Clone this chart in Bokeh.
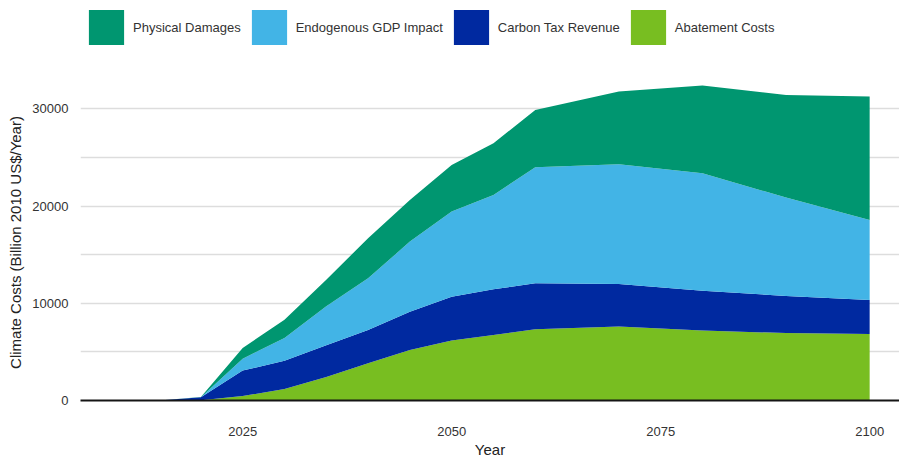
from bokeh.plotting import figure
from bokeh.models import Range1d, FixedTicker, Legend, LegendItem, ColumnDataSource
from bokeh.layouts import column
from bokeh.embed import file_html
from bokeh.resources import INLINE

years = [2010, 2015, 2020, 2025, 2030, 2035, 2040, 2045, 2050, 2055, 2060, 2070, 2080, 2090, 2100]
abatement = [0, 0, 30, 450, 1190, 2420, 3830, 5200, 6180, 6740, 7320, 7600, 7190, 6940, 6840]
carbon_tax = [0, 0, 300, 2630, 2890, 3270, 3420, 3940, 4500, 4700, 4740, 4390, 4110, 3810, 3500]
endogenous = [0, 0, 10, 1220, 2350, 4010, 5320, 7200, 8750, 9700, 11930, 12310, 12070, 10120, 8230]
physical = [0, 0, 10, 1100, 1870, 2720, 4120, 4290, 4800, 5320, 5900, 7470, 9020, 10560, 12690]

series_names = ["Abatement Costs", "Carbon Tax Revenue", "Endogenous GDP Impact", "Physical Damages"]
series_colors = ["#78be21", "#0029a0", "#42b4e6", "#009670"]
legend_order = ["Physical Damages", "Endogenous GDP Impact", "Carbon Tax Revenue", "Abatement Costs"]

x_ticks = [2025, 2050, 2075, 2100]
y_ticks = [0, 10000, 20000, 30000]
y_grid = [5000, 10000, 15000, 20000, 25000, 30000]

FONT = "Liberation Sans"

source = ColumnDataSource(dict(
    year=years,
    a=abatement, c=carbon_tax, e=endogenous, p=physical,
))

# ---------- legend strip ----------
leg = figure(width=899, height=50, output_backend="svg", toolbar_location=None,
             x_range=Range1d(0, 1), y_range=Range1d(-2, -1),
             x_axis_type=None, y_axis_type=None,
             min_border_left=80, min_border_right=0, min_border_top=0, min_border_bottom=0)
leg.outline_line_color = None
leg.xgrid.visible = False
leg.ygrid.visible = False
leg_renderers = leg.varea_stack(["a", "c", "e", "p"], x="year", source=source, color=series_colors)
leg_by_name = dict(zip(series_names, leg_renderers))
items = [LegendItem(label=n, renderers=[leg_by_name[n]]) for n in legend_order]
legend = Legend(items=items, orientation="horizontal", location=(4, 1),
                glyph_width=44, glyph_height=44, label_standoff=5, spacing=6,
                padding=0, margin=0, border_line_color=None, background_fill_alpha=0,
                label_text_font=FONT, label_text_font_size="13px", label_text_color="#333333",
                label_height=44)
leg.add_layout(legend, "center")

# ---------- main chart ----------
p = figure(width=899, height=412, output_backend="svg", toolbar_location=None,
           x_range=Range1d(2005.6, 2103.57), y_range=Range1d(0, 32500),
           min_border_left=80, min_border_right=0, min_border_top=34, min_border_bottom=62)
p.outline_line_color = None
p.background_fill_color = "white"
p.border_fill_color = "white"

p.varea_stack(["a", "c", "e", "p"], x="year", source=source, color=series_colors)

p.xaxis.ticker = FixedTicker(ticks=x_ticks)
p.yaxis.ticker = FixedTicker(ticks=y_ticks)
p.xgrid.visible = False
p.ygrid.ticker = FixedTicker(ticks=y_grid)
p.ygrid.grid_line_color = "#dddddd"
p.ygrid.grid_line_width = 1.6

p.xaxis.axis_line_color = "#151515"
p.xaxis.axis_line_width = 2
p.xaxis.major_tick_line_color = None
p.xaxis.minor_tick_line_color = None
p.xaxis.major_tick_out = 0
p.xaxis.major_tick_in = 0
p.xaxis.major_label_standoff = 26
p.xaxis.axis_label = "Year"
p.xaxis.axis_label_standoff = 2
p.xaxis.axis_label_text_font_size = "15px"
p.xaxis.axis_label_text_font_style = "normal"
p.xaxis.axis_label_text_color = "#222222"
p.xaxis.axis_label_text_font = FONT

p.yaxis.axis_line_color = None
p.yaxis.major_tick_line_color = None
p.yaxis.minor_tick_line_color = None
p.yaxis.major_tick_out = 0
p.yaxis.major_tick_in = 0
p.yaxis.major_label_standoff = 12
p.yaxis.axis_label = "Climate Costs (Billion 2010 US$/Year)"
p.yaxis.axis_label_standoff = 5
p.yaxis.axis_label_text_font_size = "15px"
p.yaxis.axis_label_text_font_style = "normal"
p.yaxis.axis_label_text_color = "#222222"
p.yaxis.axis_label_text_font = FONT

for ax in (p.xaxis, p.yaxis):
    ax.major_label_text_font = FONT
    ax.major_label_text_font_size = "13px"
    ax.major_label_text_color = "#333333"

layout = column(leg, p, spacing=0)
open("out.html", "w").write(file_html(layout, INLINE))
